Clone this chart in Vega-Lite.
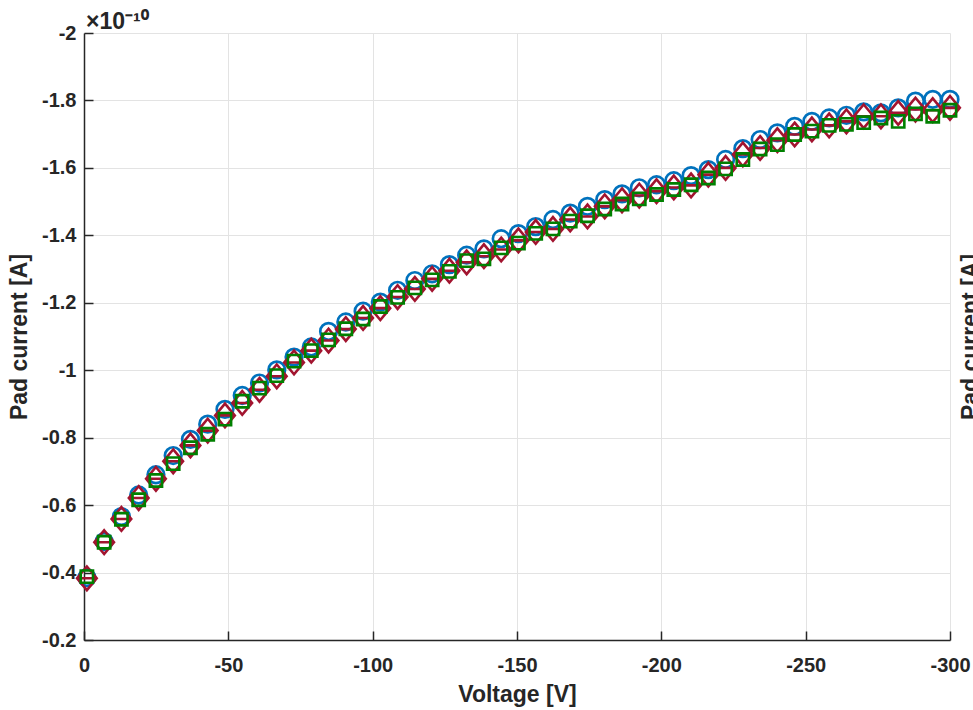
{
  "$schema": "https://vega.github.io/schema/vega-lite/v6.json",
  "width": 866,
  "height": 607,
  "autosize": {"type": "none"},
  "padding": {"left": 84, "top": 33, "right": 23, "bottom": 70},
  "title": {"text": "×10⁻¹⁰", "anchor": "start", "frame": "group", "fontSize": 23, "fontWeight": "bold", "font": "Liberation Sans", "color": "#262626", "offset": 2, "dx": 2, "dy": 13},
  "config": {
    "view": {"stroke": null},
    "axis": {
      "labelFont": "Liberation Sans", "labelFontSize": 20, "labelFontWeight": "bold", "labelColor": "#262626",
      "titleFont": "Liberation Sans", "titleFontSize": 23, "titleFontWeight": "bold", "titleColor": "#262626",
      "domainColor": "#262626", "domainWidth": 1.5, "tickColor": "#262626", "tickWidth": 1.5, "tickSize": -9,
      "gridColor": "#e3e3e3", "gridWidth": 1, "labelFlush": false, "labelOverlap": false
    }
  },
  "data": {"values": [
    {"V": -1, "I1": -0.385, "I2": -0.383, "I3": -0.388},
    {"V": -6.98, "I1": -0.492, "I2": -0.490, "I3": -0.490},
    {"V": -12.96, "I1": -0.566, "I2": -0.559, "I3": -0.558},
    {"V": -18.94, "I1": -0.630, "I2": -0.621, "I3": -0.616},
    {"V": -24.92, "I1": -0.690, "I2": -0.678, "I3": -0.673},
    {"V": -30.9, "I1": -0.747, "I2": -0.730, "I3": -0.723},
    {"V": -36.88, "I1": -0.795, "I2": -0.777, "I3": -0.770},
    {"V": -42.86, "I1": -0.840, "I2": -0.821, "I3": -0.810},
    {"V": -48.84, "I1": -0.884, "I2": -0.866, "I3": -0.855},
    {"V": -54.82, "I1": -0.925, "I2": -0.903, "I3": -0.908},
    {"V": -60.8, "I1": -0.962, "I2": -0.942, "I3": -0.947},
    {"V": -66.78, "I1": -1.001, "I2": -0.982, "I3": -0.984},
    {"V": -72.76, "I1": -1.039, "I2": -1.023, "I3": -1.027},
    {"V": -78.74, "I1": -1.069, "I2": -1.058, "I3": -1.058},
    {"V": -84.72, "I1": -1.115, "I2": -1.088, "I3": -1.090},
    {"V": -90.7, "I1": -1.143, "I2": -1.122, "I3": -1.123},
    {"V": -96.68, "I1": -1.175, "I2": -1.155, "I3": -1.152},
    {"V": -102.66, "I1": -1.202, "I2": -1.184, "I3": -1.189},
    {"V": -108.64, "I1": -1.237, "I2": -1.217, "I3": -1.216},
    {"V": -114.62, "I1": -1.266, "I2": -1.241, "I3": -1.244},
    {"V": -120.6, "I1": -1.286, "I2": -1.271, "I3": -1.268},
    {"V": -126.58, "I1": -1.313, "I2": -1.295, "I3": -1.293},
    {"V": -132.56, "I1": -1.341, "I2": -1.320, "I3": -1.325},
    {"V": -138.54, "I1": -1.360, "I2": -1.338, "I3": -1.330},
    {"V": -144.52, "I1": -1.390, "I2": -1.358, "I3": -1.363},
    {"V": -150.5, "I1": -1.405, "I2": -1.385, "I3": -1.377},
    {"V": -156.48, "I1": -1.426, "I2": -1.410, "I3": -1.406},
    {"V": -162.46, "I1": -1.447, "I2": -1.419, "I3": -1.419},
    {"V": -168.44, "I1": -1.466, "I2": -1.447, "I3": -1.442},
    {"V": -174.42, "I1": -1.486, "I2": -1.456, "I3": -1.458},
    {"V": -180.4, "I1": -1.506, "I2": -1.486, "I3": -1.478},
    {"V": -186.38, "I1": -1.523, "I2": -1.504, "I3": -1.493},
    {"V": -192.36, "I1": -1.541, "I2": -1.518, "I3": -1.508},
    {"V": -198.34, "I1": -1.550, "I2": -1.531, "I3": -1.521},
    {"V": -204.32, "I1": -1.562, "I2": -1.542, "I3": -1.536},
    {"V": -210.3, "I1": -1.577, "I2": -1.548, "I3": -1.550},
    {"V": -216.28, "I1": -1.595, "I2": -1.580, "I3": -1.570},
    {"V": -222.26, "I1": -1.625, "I2": -1.600, "I3": -1.597},
    {"V": -228.24, "I1": -1.657, "I2": -1.640, "I3": -1.625},
    {"V": -234.22, "I1": -1.684, "I2": -1.659, "I3": -1.656},
    {"V": -240.2, "I1": -1.704, "I2": -1.682, "I3": -1.669},
    {"V": -246.18, "I1": -1.723, "I2": -1.699, "I3": -1.699},
    {"V": -252.16, "I1": -1.738, "I2": -1.714, "I3": -1.709},
    {"V": -258.14, "I1": -1.748, "I2": -1.726, "I3": -1.726},
    {"V": -264.12, "I1": -1.756, "I2": -1.738, "I3": -1.729},
    {"V": -270.1, "I1": -1.766, "I2": -1.753, "I3": -1.734},
    {"V": -276.08, "I1": -1.763, "I2": -1.753, "I3": -1.748},
    {"V": -282.06, "I1": -1.778, "I2": -1.763, "I3": -1.738},
    {"V": -288.04, "I1": -1.798, "I2": -1.773, "I3": -1.760},
    {"V": -294.02, "I1": -1.803, "I2": -1.771, "I3": -1.753},
    {"V": -300, "I1": -1.803, "I2": -1.778, "I3": -1.771}
  ]},
  "encoding": {
    "x": {"field": "V", "type": "quantitative",
      "scale": {"domain": [-300, 0], "reverse": true, "nice": false, "zero": false},
      "axis": {"title": "Voltage [V]", "values": [-300, -250, -200, -150, -100, -50, 0], "format": "~r",
        "labelExpr": "replace(datum.label, '−', '-')", "labelPadding": 24, "titlePadding": 8}}
  },
  "layer": [
    {
      "mark": {"type": "point", "shape": "circle", "filled": false, "size": 275, "strokeWidth": 2.7, "color": "#0072BD", "opacity": 1},
      "encoding": {
        "y": {"field": "I1", "type": "quantitative",
          "scale": {"domain": [-2, -0.2], "reverse": true, "nice": false, "zero": false},
          "axis": {"orient": "left", "title": "Pad current [A]", "values": [-2, -1.8, -1.6, -1.4, -1.2, -1, -0.8, -0.6, -0.4, -0.2], "format": "~r",
            "labelExpr": "replace(datum.label, '−', '-')", "labelPadding": 17, "titlePadding": 10}}
      }
    },
    {
      "mark": {"type": "point", "shape": "M0,-1L0.83,0L0,1L-0.83,0ZM-0.83,0L0.83,0", "filled": false, "size": 560, "strokeWidth": 2.6, "color": "#A2142F", "opacity": 1},
      "encoding": {
        "y": {"field": "I2", "type": "quantitative", "axis": null}
      }
    },
    {
      "mark": {"type": "point", "shape": "square", "filled": false, "size": 150, "strokeWidth": 2.6, "color": "#008000", "opacity": 1},
      "encoding": {
        "y": {"field": "I3", "type": "quantitative", "axis": null}
      }
    },
    {
      "mark": {"type": "point", "opacity": 0},
      "encoding": {
        "y": {"field": "I1", "type": "quantitative",
          "axis": {"orient": "right", "title": "Pad current [A]", "labels": false, "ticks": false, "domain": false, "grid": false,
            "titleAngle": 270, "titleBaseline": "top", "titlePadding": 9}}
      }
    }
  ],
  "resolve": {"axis": {"y": "independent"}}
}
